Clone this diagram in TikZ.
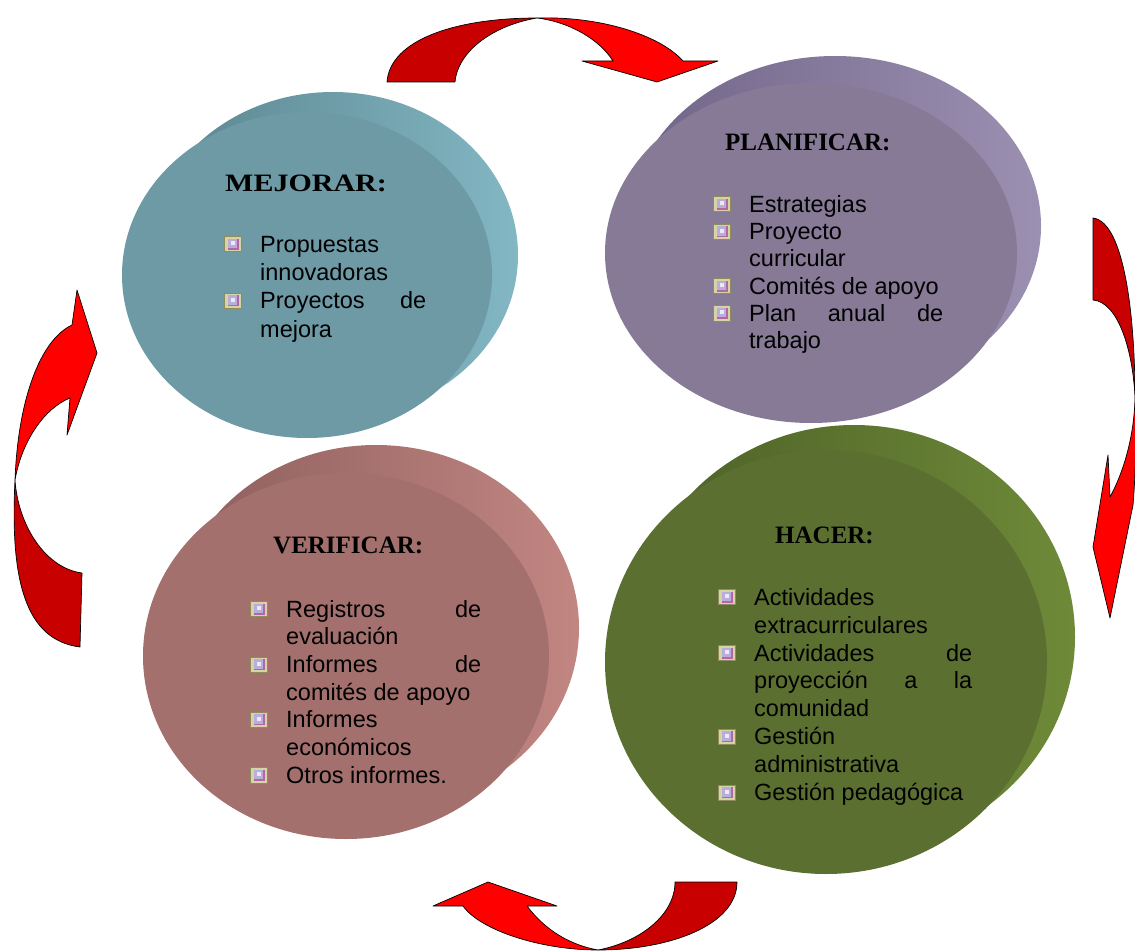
\documentclass[tikz,border=0pt]{standalone}
\usepackage{fontspec}
\setmainfont{Liberation Sans}
\newfontfamily\bodyfont{Liberation Sans}
\newfontfamily\titlefont{Liberation Serif}
\definecolor{mejF}{HTML}{6E9AA6}\definecolor{mejBa}{HTML}{5A838E}\definecolor{mejBb}{HTML}{82B7C3}
\definecolor{plaF}{HTML}{867A96}\definecolor{plaBa}{HTML}{706588}\definecolor{plaBb}{HTML}{9C90B2}
\definecolor{verF}{HTML}{A3706E}\definecolor{verBa}{HTML}{8C5E5C}\definecolor{verBb}{HTML}{C28682}
\definecolor{hacF}{HTML}{5B7030}\definecolor{hacBa}{HTML}{4C5F27}\definecolor{hacBb}{HTML}{6E8A38}
\definecolor{arrDark}{HTML}{C80000}\definecolor{arrBright}{HTML}{FF0000}
\definecolor{bulFrame}{HTML}{D6D4A4}\definecolor{bulEdge}{HTML}{8E8C5E}
\definecolor{bulIn}{HTML}{B8AEDC}\definecolor{bulPink}{HTML}{B865A8}\definecolor{bulCore}{HTML}{ECE8F6}
\newlength\lw
\newcommand\bul{\tikz[baseline=0pt,x=1pt,y=1pt]{%
  \fill[bulFrame] (0,0) rectangle (18,16);
  \draw[bulEdge,line width=0.7pt] (0.4,0.4) rectangle (17.6,15.6);
  \fill[bulPink] (3.5,2.5) rectangle (14.5,13.5);
  \fill[bulIn] (3.5,4) rectangle (13,13.5);
  \fill[bulCore] (6.5,7) rectangle (10.5,11);}}
\newcommand\bi{\makebox[36pt][l]{\bul}}
\newcommand\emptyind{\hspace*{36pt}}
\newcommand\jl[1]{\makebox[\lw][s]{#1}}
\newcommand\pl[1]{\makebox[\lw][l]{#1}}
\tikzset{
  darkpart/.style={fill=arrDark, draw=black, line width=0.7pt, line join=round},
  brightpart/.style={fill=arrBright, draw=black, line width=0.7pt, line join=round},
  titletext/.style={anchor=base west, inner sep=0pt, font=\titlefont\bfseries\fontsize{25}{30}\selectfont},
  listtext/.style={anchor=north west, inner sep=0pt, align=left}
}
\begin{document}
\begin{tikzpicture}[x=1pt,y=1pt]
\useasboundingbox (0,0) rectangle (1135,-952);
\fill[white] (0,0) rectangle (1135,-952);

% discs
\shade[left color=mejBa, right color=mejBb] (333,-255) ellipse [x radius=185pt, y radius=163pt];
\fill[mejF] (307,-275) ellipse [x radius=185pt, y radius=163pt];
\shade[left color=plaBa, right color=plaBb] (835,-226) ellipse [x radius=206pt, y radius=170pt];
\fill[plaF] (811,-253) ellipse [x radius=206pt, y radius=170pt];
\shade[left color=verBa, right color=verBb] (376,-628) ellipse [x radius=203pt, y radius=183pt];
\fill[verF] (346,-656) ellipse [x radius=203pt, y radius=183pt];
\shade[left color=hacBa, right color=hacBb] (854,-637) ellipse [x radius=221pt, y radius=212pt];
\fill[hacF] (826,-662) ellipse [x radius=221pt, y radius=212pt];

% top arrow
\path[darkpart] (387,-82) .. controls (390,-40) and (455,-18) .. (537,-18)
  .. controls (495,-25) and (458,-50) .. (455,-82) -- cycle;
\path[brightpart] (537,-18) .. controls (600,-16) and (660,-35) .. (683,-61)
  -- (718,-61) -- (657,-82) -- (582,-61) -- (613,-61)
  .. controls (600,-40) and (570,-22) .. (537,-18) -- cycle;
% right arrow
\path[darkpart] (1093,-218) .. controls (1125,-222) and (1135,-320) .. (1135,-398)
  .. controls (1133,-350) and (1118,-302) .. (1093,-300) -- cycle;
\path[brightpart] (1135,-398) .. controls (1134,-440) and (1122,-475) .. (1110,-497)
  -- (1108,-455) -- (1093,-547) -- (1110,-618) -- (1133,-505)
  .. controls (1136,-470) and (1136,-430) .. (1135,-398) -- cycle;
% bottom arrow
\path[darkpart] (737,-882) .. controls (737,-925) and (670,-950) .. (598,-950)
  .. controls (640,-942) and (675,-915) .. (675,-882) -- cycle;
\path[brightpart] (598,-950) .. controls (540,-950) and (480,-930) .. (463,-906)
  -- (433,-906) -- (488,-882) -- (557,-906) -- (527,-906)
  .. controls (545,-930) and (570,-945) .. (598,-950) -- cycle;
% left arrow
\path[darkpart] (80,-647) .. controls (25,-640) and (10,-580) .. (15,-480)
  .. controls (18,-525) and (45,-568) .. (82,-573) -- cycle;
\path[brightpart] (15,-480) .. controls (18,-400) and (40,-340) .. (72,-325)
  -- (77,-290) -- (97,-353) -- (67,-435) -- (70,-398)
  .. controls (45,-408) and (22,-440) .. (15,-480) -- cycle;

% titles
\node[titletext] (tMej) at (225,-192) {\scalebox{1.2}[1]{MEJORAR:}};
\node[titletext] (tPla) at (725,-151) {PLANIFICAR:};
\node[titletext] (tVer) at (273,-553) {VERIFICAR:};
\node[titletext] (tHac) at (775,-543) {HACER:};

% lists
\node[listtext, font=\bodyfont\fontsize{23.5}{28.3}\selectfont\setlength\lw{166pt}] (lMej) at (224,-232.2) {%
\strut\bi\pl{Propuestas}\\
\strut\emptyind\pl{innovadoras}\\
\strut\bi\jl{Proyectos de}\\
\strut\emptyind\pl{mejora}};

\node[listtext, font=\bodyfont\fontsize{23.5}{27.3}\selectfont\setlength\lw{194pt}] (lPla) at (713,-192.9) {%
\strut\bi\pl{Estrategias}\\
\strut\bi\pl{Proyecto}\\
\strut\emptyind\pl{curricular}\\
\strut\bi\pl{Comités de apoyo}\\
\strut\bi\jl{Plan anual de}\\
\strut\emptyind\pl{trabajo}};

\node[listtext, font=\bodyfont\fontsize{23.5}{27.7}\selectfont\setlength\lw{195pt}] (lVer) at (250,-597.6) {%
\strut\bi\jl{Registros de}\\
\strut\emptyind\pl{evaluación}\\
\strut\bi\jl{Informes de}\\
\strut\emptyind\pl{comités de apoyo}\\
\strut\bi\pl{Informes}\\
\strut\emptyind\pl{económicos}\\
\strut\bi\pl{Otros informes.}};

\node[listtext, font=\bodyfont\fontsize{23.5}{27.9}\selectfont\setlength\lw{218pt}] (lHac) at (718,-585.5) {%
\strut\bi\pl{Actividades}\\
\strut\emptyind\pl{extracurriculares}\\
\strut\bi\jl{Actividades de}\\
\strut\emptyind\jl{proyección a la}\\
\strut\emptyind\pl{comunidad}\\
\strut\bi\pl{Gestión}\\
\strut\emptyind\pl{administrativa}\\
\strut\bi\pl{Gestión pedagógica}};
\end{tikzpicture}
\end{document}
